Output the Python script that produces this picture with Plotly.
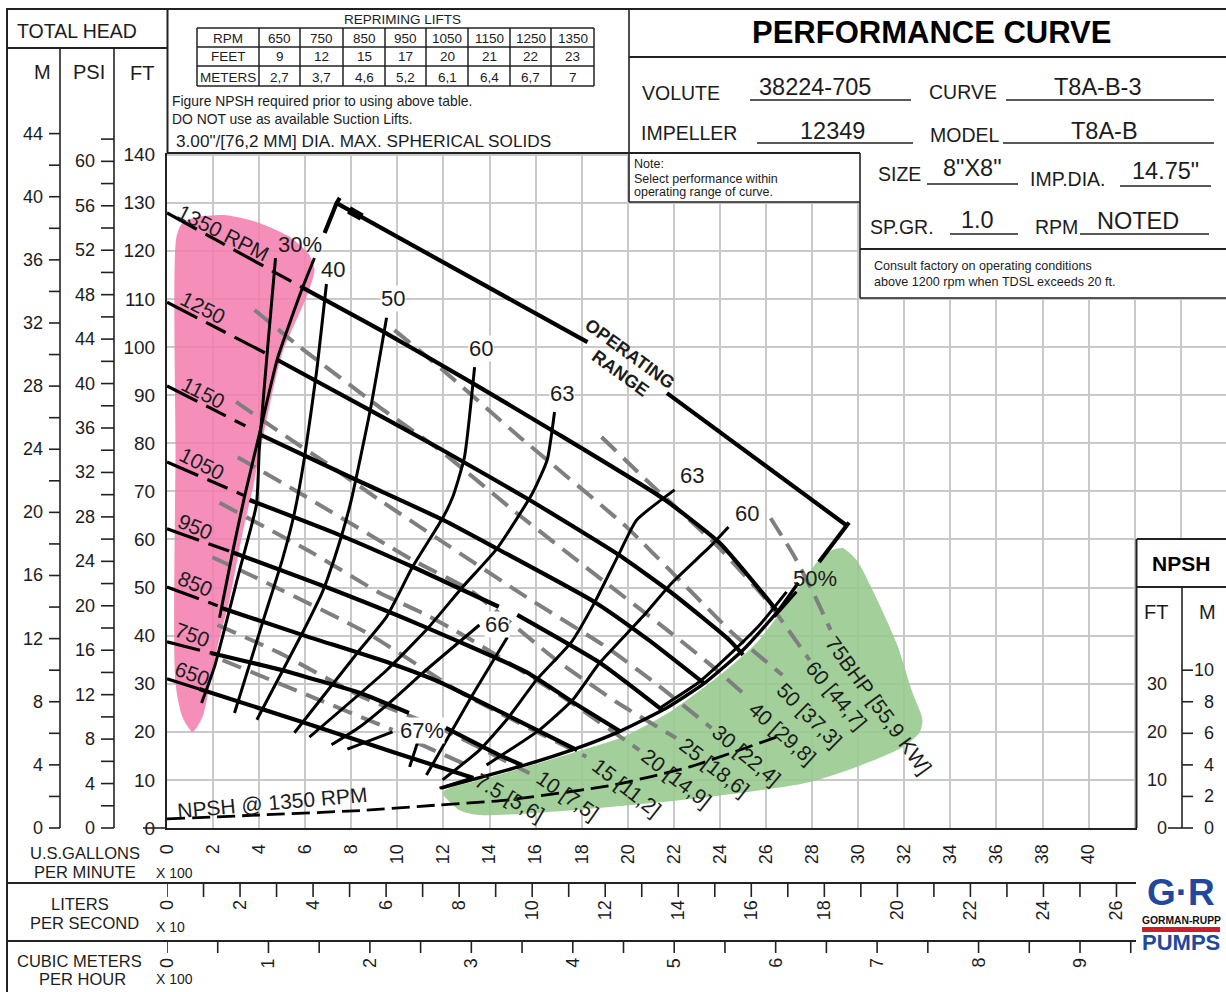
import plotly.graph_objects as go

# ---------- table / header values ----------
RPM_ROW = ["RPM", "650", "750", "850", "950", "1050", "1150", "1250", "1350"]
FEET_ROW = ["FEET", "9", "12", "15", "17", "20", "21", "22", "23"]
METERS_ROW = ["METERS", "2,7", "3,7", "4,6", "5,2", "6,1", "6,4", "6,7", "7"]

# ---------- axis scales ----------
GPM_TICKS = list(range(0, 46, 2))
GPM_LABELS = [str(v) if v <= 40 else "" for v in GPM_TICKS]
FT_TICKS = list(range(0, 141, 10))
M_TICKS = list(range(0, 45, 2))
PSI_TICKS = list(range(0, 63, 2))
LPS_TICKS = list(range(0, 27))
CMH_TICKS = [v / 2 for v in range(0, 20)]
NPSH_FT_TICKS = [0, 10, 20, 30]
NPSH_M_TICKS = [0, 2, 4, 6, 8, 10]
FT_PER_M = 3.281
FT_PER_PSI = 2.31
GPM100_PER_LPS10 = 1.585
GPM100_PER_CMH100 = 4.403

# ---------- regions (x = GPM/100, y = FT) ----------
PINK_X = [.37, .37, .41, .67, 1.28, 2.58, 4.01, 5.32, 6.18, 6.4, 6.05, 5.01, 4.32, 3.71, 3.28, 2.71, 2.19, 1.84, 1.54, 1.11, .67, .37]
PINK_Y = [30.1, 78.6, 122.9, 125.8, 127, 127.4, 125.8, 122.9, 119.1, 116, 110.4, 98.8, 84.8, 70.3, 61.3, 47.4, 37.6, 29.3, 23.1, 20, 23.1, 30.1]
GREEN_X = [11.96, 12.7, 13.56, 17.6, 23.42, 27.76, 29.93, 31.92, 32.66, 32.79, 32.36, 31.66, 30.62, 29.93, 29.32, 28.88, 28.19, 27.02, 25.59, 24.11, 21.94, 19.77, 17.6, 15.43, 13.26, 12.26, 11.96]
GREEN_Y = [7.3, 3.7, 2.7, 3.7, 6.4, 9.4, 12.7, 16.8, 19.8, 22.5, 28.1, 38.5, 49.5, 55.7, 58.2, 57.8, 55.1, 47.4, 38.5, 32.2, 24.5, 18.9, 15.6, 12.5, 9.6, 8.3, 7.3]

# ---------- head curves: dashed low-flow part ----------
D1350_X = [0, 5.9];  D1350_Y = [127.9, 112.3]
D1250_X = [0, 4.45]; D1250_Y = [109.3, 98.3]
D1150_X = [0, 3.4];  D1150_Y = [91.9, 83.6]
D1050_X = [0, 3.4];  D1050_Y = [76.1, 69]
D950_X = [0, 2.8];   D950_Y = [62.2, 57.4]
D850_X = [0, 2.2];   D850_Y = [50.1, 46.2]
D750_X = [0, 1.9];   D750_Y = [38.7, 36.4]
D650_X = [0, 1.4];   D650_Y = [31, 28.9]

# ---------- head curves: solid part ----------
S1350_X = [5.9, 9.5, 13.26, 16.7, 21.5, 24, 26.45]
S1350_Y = [112.3, 102.9, 92.5, 82.7, 68.6, 59.2, 45.3]
S1250_X = [4.8, 8.9, 11.8, 15.7, 19.6, 21.9, 24.4, 25]
S1250_Y = [97.3, 86.6, 79, 68.3, 56.8, 48.9, 39.1, 36]
S1150_X = [4, 8.2, 12, 14.35, 18.55, 20.9, 23.3]
S1150_Y = [81.9, 72.4, 64, 58, 47, 39.1, 30.1]
S1050A_X = [3.58, 7.5, 10.8, 14.4]
S1050A_Y = [68.2, 60.9, 54, 46]
S1050B_X = [15.2, 18.8, 21.5]
S1050B_Y = [44.3, 34.3, 24.5]
S950_X = [2.8, 6.9, 10.8, 15.6, 17.6, 19.7]
S950_Y = [57.4, 50.1, 42.6, 32.4, 26.2, 20]
S850_X = [2.4, 5.9, 9.66, 11.8, 14.7, 17.8]
S850_Y = [45.7, 40.1, 34.3, 30.4, 23.6, 16.2]
S750A_X = [1.9, 5, 8.35, 10.5]
S750A_Y = [36.4, 32.8, 28.1, 23.9]
S750B_X = [12.1, 14.4, 15.4]
S750B_Y = [20.8, 15.2, 13.1]
S650_X = [1.4, 5.9, 9.8, 13.3]
S650_Y = [28.9, 22, 15.8, 10.4]

# ---------- right envelope and operating range ----------
ENV_X = [11.9, 15.4, 17.8, 19.7, 21.7, 23.3, 25, 26.5, 27.4]
ENV_Y = [8.3, 12.9, 16.6, 20.2, 25, 30, 37, 45, 51]
OP_A_X = [7.36, 18.25]; OP_A_Y = [129.9, 101]
OP_B_X = [21.7, 29.5];  OP_B_Y = [90.4, 62.9]
OP_LEFT_X = [7.5, 7.36, 6.84]; OP_LEFT_Y = [131, 129.9, 123.7]
OP_RIGHT_X = [29.6, 28.3];     OP_RIGHT_Y = [63.5, 55.3]
ARROW_X = [7.9, 8.45];         ARROW_Y = [128.5, 127]

# ---------- efficiency curves ----------
E30A_X = [4.71, 4.36, 4.01, 3.88, 3.15, 2.06, 1.5]
E30A_Y = [118.5, 99.4, 79.2, 67.2, 53.6, 33.5, 26]
E30B_X = [6.4, 5.88, 4.8, 4.01, 3.36, 2.84, 2.28]
E30B_Y = [118.5, 112.3, 97.7, 81.9, 68.8, 57.2, 43.7]
E40_X = [6.92, 6.49, 5.97, 5.53, 5, 4.14, 2.93]
E40_Y = [113.1, 94.8, 77.1, 65.5, 55.7, 42.6, 23.9]
E50_X = [9.53, 8.83, 8, 7.56, 6.95, 6.73, 5.87, 3.9]
E50_Y = [106.1, 87.1, 68.2, 60.5, 51.6, 48.9, 40.5, 22.5]
E60_X = [13.35, 12.91, 12.4, 11.96, 10.66, 9.53, 8.36, 5.53]
E60_Y = [95.8, 77.1, 68.8, 64.4, 54.3, 43.9, 37, 19.8]
E63A_X = [16.82, 16.5, 15.86, 14.34, 12.83, 11.26, 9.53, 6.18]
E63A_Y = [86.5, 76.5, 69.6, 58.2, 50.1, 41.2, 32.8, 18.9]
E66A_X = [13.56, 11.09, 9.79, 8.36, 7.14]
E66A_Y = [42.2, 32.2, 26.6, 21, 17.3]
E66B_X = [14.78, 13.13, 11.26]
E66B_Y = [39.7, 26.6, 11]
E67A_X = [7.83, 9.79];   E67A_Y = [16.4, 20]
E67B_X = [10.87, 10.53]; E67B_Y = [17.7, 12.7]
E67C_X = [11.83, 13.26]; E67C_Y = [8.3, 10.4]
E63B_X = [22.03, 20.38, 19.64, 18.55, 17.56, 16.04, 14.74, 13.56, 11.96]
E63B_Y = [70.3, 64, 57.2, 46.8, 38.7, 30.8, 22.5, 16.2, 10]
E60B_X = [24.37, 23.63, 21.9, 20.64, 18.77, 17.6, 16.17, 13.87]
E60B_Y = [62.6, 58.8, 50.9, 43.9, 34.3, 26.6, 20.4, 13.1]
E50P_X = [26.89, 25.72, 24.54, 23.11, 21.38]
E50P_Y = [49.1, 42.2, 36.6, 30.4, 24.9]
E50Q_X = [27.32, 26.36]; E50Q_Y = [49.1, 43.9]

# ---------- power curves (grey dashed) ----------
P75_X = [26.2, 27.2, 28.1, 28.8];         P75_Y = [64.4, 56.7, 48.4, 41.2]
P60_X = [18.86, 20.81, 23.85, 26.02, 27.89]; P60_Y = [81.3, 72.3, 58.8, 47.4, 34.9]
P50_X = [9.87, 11.83, 15.3, 19.94, 22.24, 24.55, 26.71]; P50_Y = [103.5, 95.8, 81.3, 62.6, 51.6, 40.5, 31.8]
P40_X = [3.8, 5.66, 9.22, 11.83, 15.17, 19.07, 21.7, 23.7, 25.2]; P40_Y = [107.7, 100.4, 87.5, 78.6, 65.5, 50.9, 41.2, 33.5, 27.2]
P30_X = [3, 5.2, 6.9, 9.22, 11.83, 15.6, 19.07, 21.2, 23.63]; P30_Y = [88.6, 81.3, 75.9, 68.2, 59.9, 48, 37.6, 30.1, 20.8]
P25_X = [3.07, 6.05, 10.66, 13.13, 16.9, 19.5, 22.1]; P25_Y = [77.1, 68.8, 55.7, 49.5, 34.9, 26.2, 18.7]
P20_X = [2.28, 6.31, 9.22, 11.09, 13, 17.04, 20.5]; P20_Y = [67.6, 57.2, 48.9, 44.7, 39.7, 27.7, 16.2]
P15_X = [1.97, 3.88, 8.7, 12.7, 14.43, 18.2]; P15_Y = [56.3, 52, 40.5, 28.3, 23.9, 14.8]
P10_X = [2.19, 4.88, 8.49, 11.83, 15.73]; P10_Y = [42.2, 36.4, 27.2, 20.8, 11.4]
P7A_X = [2.41, 6.62, 9.79]; P7A_Y = [34.9, 26.6, 20.4]
P7B_X = [10.87, 13];        P7B_Y = [17.7, 13.1]

# ---------- NPSH curve ----------
NPSH_X = [0, 4.01, 8.66, 11.83, 14.74, 19.34, 22.68, 26.45]
NPSH_Y = [1.9, 2.7, 3.7, 4.8, 5.8, 8.9, 12.7, 18.9]

# ---------- drawing ----------
FONT = "Liberation Sans"
INK = "#1c1c1c"
L, B, W, H = 167, 828, 1059, 675
PX_PER_X, PX_PER_Y = 23.04, 4.81
fig = go.Figure()


def fill(x, y, color):
    fig.add_trace(go.Scatter(x=x, y=y, mode="lines", fill="toself", fillcolor=color,
                             line=dict(width=0, shape="spline", smoothing=0.7), hoverinfo="skip"))


def curve(x, y, color="#000000", width=3.2, dash="solid", smooth=0.5):
    fig.add_trace(go.Scatter(x=x, y=y, mode="lines", hoverinfo="skip",
                             line=dict(color=color, width=width, dash=dash, shape="spline", smoothing=smooth)))


fill(PINK_X, PINK_Y, "rgba(243,125,175,0.86)")
fill(GREEN_X, GREEN_Y, "rgba(150,202,140,0.88)")

GREY = "#7f7f7f"
GREY_DASH = "20px,10px"
for x, y in [(P75_X, P75_Y), (P60_X, P60_Y), (P50_X, P50_Y), (P40_X, P40_Y), (P30_X, P30_Y), (P25_X, P25_Y),
             (P20_X, P20_Y), (P15_X, P15_Y), (P10_X, P10_Y), (P7A_X, P7A_Y), (P7B_X, P7B_Y)]:
    curve(x, y, GREY, 4, GREY_DASH)

for x, y in [(E30A_X, E30A_Y), (E30B_X, E30B_Y), (E40_X, E40_Y), (E50_X, E50_Y), (E60_X, E60_Y), (E63A_X, E63A_Y),
             (E66A_X, E66A_Y), (E66B_X, E66B_Y), (E67A_X, E67A_Y), (E67B_X, E67B_Y), (E67C_X, E67C_Y),
             (E63B_X, E63B_Y), (E60B_X, E60B_Y), (E50P_X, E50P_Y), (E50Q_X, E50Q_Y)]:
    curve(x, y, "#000000", 3)

for x, y in [(D1350_X, D1350_Y), (D1250_X, D1250_Y), (D1150_X, D1150_Y), (D1050_X, D1050_Y),
             (D950_X, D950_Y), (D850_X, D850_Y), (D750_X, D750_Y), (D650_X, D650_Y)]:
    curve(x, y, "#000000", 3.2, "34px,10px,22px,10px", 0)

for x, y in [(S1350_X, S1350_Y), (S1250_X, S1250_Y), (S1150_X, S1150_Y), (S1050A_X, S1050A_Y), (S1050B_X, S1050B_Y),
             (S950_X, S950_Y), (S850_X, S850_Y), (S750A_X, S750A_Y), (S750B_X, S750B_Y), (S650_X, S650_Y)]:
    curve(x, y, "#000000", 4.2)

curve(ENV_X, ENV_Y, "#000000", 3.4)
for x, y in [(OP_A_X, OP_A_Y), (OP_B_X, OP_B_Y), (OP_LEFT_X, OP_LEFT_Y), (OP_RIGHT_X, OP_RIGHT_Y)]:
    curve(x, y, "#000000", 4.2, smooth=0)
curve(ARROW_X, ARROW_Y, "#000000", 8, smooth=0)
curve(NPSH_X, NPSH_Y, "#000000", 2.8, "18px,7px")

shapes = []
notes = []
Y_TOP = H / PX_PER_Y


def rect(x0, y0, x1, y1, layer="above"):
    shapes.append(dict(type="rect", xref="paper", yref="paper", x0=(x0 - L) / W, x1=(x1 - L) / W,
                       y0=(B - y0) / H, y1=(B - y1) / H, fillcolor="white", line_width=0, layer=layer))


def seg(x0, y0, x1, y1, w=1.6, color="#222222"):
    shapes.append(dict(type="line", xref="paper", yref="paper", x0=(x0 - L) / W, x1=(x1 - L) / W,
                       y0=(B - y0) / H, y1=(B - y1) / H, line=dict(color=color, width=w), layer="above"))


def text(s, px, py, size=18, anchor="center", angle=0, bold=False, bg=None, color=INK, va="middle"):
    notes.append(dict(text=f"<b>{s}</b>" if bold else s, xref="paper", yref="paper", x=(px - L) / W, y=(B - py) / H,
                      xanchor=anchor, yanchor=va, showarrow=False, textangle=angle, borderpad=0,
                      font=dict(family=FONT, size=size, color=color), bgcolor=bg))


def ytick(value_ft, x0, x1):
    shapes.append(dict(type="line", xref="paper", yref="paper", x0=(x0 - L) / W, x1=(x1 - L) / W,
                       y0=value_ft / Y_TOP, y1=value_ft / Y_TOP,
                       line=dict(color="#222222", width=1.6), layer="above"))


def ylabel(s, value_ft, px, anchor="right", size=18):
    notes.append(dict(text=s, xref="paper", yref="paper", x=(px - L) / W, y=value_ft / Y_TOP, xanchor=anchor,
                      yanchor="middle", showarrow=False, borderpad=0, font=dict(family=FONT, size=size, color=INK)))


def xtick(value_x, y0, y1):
    shapes.append(dict(type="line", xref="x", yref="paper", x0=value_x, x1=value_x, y0=(B - y0) / H, y1=(B - y1) / H,
                       line=dict(color="#222222", width=1.6), layer="above"))


def xlabel(s, value_x, py):
    notes.append(dict(text=s, xref="x", yref="paper", x=value_x, y=(B - py) / H, xanchor="center", yanchor="top",
                      textangle=-90, showarrow=False, borderpad=0, font=dict(family=FONT, size=18, color=INK)))


# masks that interrupt the grid
rect(370, 775, 850, 783, layer="between")
rect(629, 153, 860, 202)
rect(860, 153, 1226, 298)
rect(1137, 539, 1226, 992)

# frame
seg(6, 9, 1226, 9, 2)
seg(7, 9, 7, 992, 2)
seg(167.5, 9, 167.5, 153, 2)
seg(7, 48, 167, 48, 2)
seg(60, 48, 60, 828)
seg(114, 48, 114, 828)
seg(629, 9, 629, 202)
seg(629, 57, 1226, 57, 2)
seg(167, 153, 860, 153, 2)
seg(629, 202, 860, 202)
seg(860, 153, 860, 298)
seg(860, 249, 1226, 249, 2)
seg(860, 298, 1226, 298)
seg(6, 883, 1136, 883, 2)
seg(6, 941, 1136, 941, 2)
seg(1136.5, 539, 1136.5, 828, 2)
seg(1137, 539, 1226, 539, 2)
seg(1137, 587, 1226, 587, 2)
seg(1182, 587, 1182, 828)
seg(143, 828, 167, 828, 1.6)

# left scales
text("TOTAL HEAD", 77, 31, 19.5)
text("M", 42, 72, 20)
text("PSI", 89, 72, 20)
text("FT", 142, 73, 20)
for v in M_TICKS:
    ytick(v * FT_PER_M, 49, 60)
    if v % 4 == 0:
        ylabel(str(v), v * FT_PER_M, 44)
for v in PSI_TICKS:
    ytick(v * FT_PER_PSI, 101, 114)
    if v % 4 == 0:
        ylabel(str(v), v * FT_PER_PSI, 96)

# bottom scales
text("U.S.GALLONS", 85, 853, 16.5)
text("PER MINUTE", 85, 872, 16.5)
text("X 100", 174, 873, 14)
text("LITERS", 80, 904, 16.5)
text("PER SECOND", 84, 923, 16.5)
text("X 10", 170, 927, 14)
text("CUBIC METERS", 79, 961, 16.5)
text("PER HOUR", 82, 979, 16.5)
text("X 100", 174, 979, 14)
for v in LPS_TICKS:
    xtick(v * GPM100_PER_LPS10, 883, 897)
    if v % 2 == 0:
        xlabel(str(v), v * GPM100_PER_LPS10, 899)
for v in CMH_TICKS:
    xtick(v * GPM100_PER_CMH100, 941, 953)
    if v == int(v):
        xlabel(str(int(v)), v * GPM100_PER_CMH100, 957)

# repriming table
text("REPRIMING LIFTS", 402, 19, 13.5)
COLS = [197, 259, 300, 343, 385, 426, 468, 510, 551, 594]
ROWS = [28, 47, 66, 86]
for c in COLS:
    seg(c, ROWS[0], c, ROWS[-1], 1.5)
for r in ROWS:
    seg(COLS[0], r, COLS[-1], r, 1.5)
for row, yc in [(RPM_ROW, 38), (FEET_ROW, 57), (METERS_ROW, 77)]:
    for i, s in enumerate(row):
        text(s, (COLS[i] + COLS[i + 1]) / 2, yc, 13.5)
text("Figure NPSH required prior to using above table.", 171, 101, 13.9, "left")
text("DO NOT use as available Suction Lifts.", 171, 119, 13.9, "left")
text('3.00"/[76,2 MM] DIA. MAX. SPHERICAL SOLIDS', 175, 141, 17.2, "left")

# title block
text("PERFORMANCE CURVE", 931, 33, 31, bold=True, color="#000000")
text("VOLUTE", 641, 93, 19.5, "left")
text("38224-705", 815, 87, 23.5)
seg(750, 100, 911, 100)
text("CURVE", 928, 92, 19.5, "left")
text("T8A-B-3", 1098, 87, 23.5)
seg(1006, 100, 1214, 100)
text("IMPELLER", 640, 133, 19.5, "left")
text("12349", 832, 131, 23.5)
seg(757, 143, 913, 143)
text("MODEL", 929, 135, 19.5, "left")
text("T8A-B", 1104, 131, 23.5)
seg(1003, 143, 1214, 143)
text("SIZE", 877, 174, 19.5, "left")
text('8"X8"', 972, 168, 23.5)
seg(927, 184, 1018, 184)
text("IMP.DIA.", 1029, 179, 19.5, "left")
text('14.75"', 1165, 171, 23.5)
seg(1120, 186, 1211, 186)
text("SP.GR.", 869, 227, 19.5, "left")
text("1.0", 977, 220, 23.5)
seg(950, 234, 1018, 234)
text("RPM", 1034, 227, 19.5, "left")
text("NOTED", 1138, 221, 23.5)
seg(1080, 234, 1209, 234)
text("Note:", 633, 164, 12.5, "left")
text("Select performance within", 633, 179, 12.5, "left")
text("operating range of curve.", 633, 192, 12.5, "left")
text("Consult factory on operating conditions", 873, 266, 12.6, "left")
text("above 1200 rpm when TDSL exceeds 20 ft.", 873, 282, 12.6, "left")

# NPSH scale
text("NPSH", 1181, 563, 21, bold=True, color="#000000")
text("FT", 1156, 612, 20)
text("M", 1207, 612, 20)
for v in NPSH_FT_TICKS:
    ylabel(str(v), v, 1168)
seg(1168, 828, 1182, 828)
for v in NPSH_M_TICKS:
    ytick(v * FT_PER_M, 1182, 1193)
    ylabel(str(v), v * FT_PER_M, 1215)

# logo
BLUE = "#21489c"
text("G·R", 1181, 892, 37, bold=True, color=BLUE)
text("GORMAN-RUPP", 1181, 920, 10.3, bold=True, color="#111111")
seg(1142, 929.5, 1220, 929.5, 5, "#c8202e")
text("PUMPS", 1181, 943, 22, bold=True, color=BLUE)

# curve labels
for s, px, py, a in [("1350 RPM", 223, 232, 27), ("1250", 203, 307, 27), ("1150", 203, 392, 27), ("1050", 202, 463, 27),
                     ("950", 195, 526, 23), ("850", 195, 583, 23), ("750", 192, 634, 20), ("650", 192, 673, 20)]:
    text(s, px, py, 21, angle=a)
for s, px, py in [("30%", 300, 244), ("40", 333, 269), ("50", 393, 298), ("60", 481, 348), ("63", 562, 393),
                  ("63", 692, 475), ("60", 747, 513), ("50%", 815, 578), ("66", 497, 624), ("67%", 422, 730)]:
    text(s, px, py, 22, bg="white" if s not in ("30%", "50%") else None)
text("OPERATING", 630, 354, 18, angle=36, bold=True)
text("RANGE", 620, 373, 18, angle=36, bold=True)
text("NPSH @ 1350 RPM", 272, 802, 21, angle=-5)
for s, px, py, a in [("7.5 [5,6]", 510, 797, 30), ("10 [7,5]", 568, 795, 35), ("15 [11,2]", 627, 787, 38),
                     ("20 [14,9]", 677, 778, 38), ("25 [18,6]", 715, 767, 38), ("30 [22,4]", 747, 755, 40),
                     ("40 [29,8]", 783, 733, 42), ("50 [37,3]", 810, 715, 45), ("60 [44,7]", 837, 695, 50),
                     ("75BHP [55,9 KW]", 879, 705, 54)]:
    text(s, px, py, 21, angle=a)

fig.update_layout(
    width=1226, height=992, autosize=False, showlegend=False,
    margin=dict(l=L, r=1226 - L - W, t=B - H, b=992 - B, pad=0),
    paper_bgcolor="white", plot_bgcolor="white",
    shapes=shapes, annotations=notes,
    font=dict(family=FONT, size=18, color=INK),
    xaxis=dict(range=[0, W / PX_PER_X], tickmode="array", tickvals=GPM_TICKS, ticktext=GPM_LABELS, tickangle=-90,
               showgrid=True, gridcolor="#c9c9c9", gridwidth=1.5, zeroline=False, showline=True, linecolor="#222222",
               linewidth=2, ticks="", ticklabelstandoff=7, tickfont=dict(family=FONT, size=18, color=INK)),
    yaxis=dict(range=[0, Y_TOP], tickmode="array", tickvals=FT_TICKS, showgrid=True, gridcolor="#c9c9c9",
               gridwidth=1.5, zeroline=False, showline=True, linecolor="#222222", linewidth=2, ticks="",
               ticklabelstandoff=6, tickfont=dict(family=FONT, size=19, color=INK)),
)

fig.write_html("out.html", config={"displayModeBar": False},
               post_script="document.body.style.margin='0';")
